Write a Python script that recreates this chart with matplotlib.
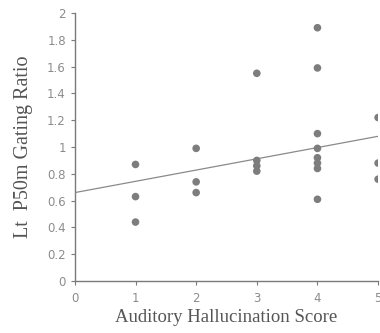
import matplotlib
matplotlib.use("Agg")
import matplotlib.pyplot as plt

# Auditory hallucination score vs left P50m gating ratio
score = [1, 1, 1,
         2, 2, 2,
         3, 3, 3, 3,
         4, 4, 4, 4, 4, 4, 4, 4,
         5, 5, 5]
ratio = [0.87, 0.63, 0.44,
         0.99, 0.74, 0.66,
         1.55, 0.90, 0.86, 0.82,
         1.89, 1.59, 1.10, 0.99, 0.92, 0.88, 0.84, 0.61,
         1.22, 0.88, 0.76]

# Regression line endpoints
fit_x = [0, 5]
fit_y = [0.66, 1.08]

x_ticks = [0, 1, 2, 3, 4, 5]
y_ticks = [0, 0.2, 0.4, 0.6, 0.8, 1, 1.2, 1.4, 1.6, 1.8, 2]
y_tick_labels = ["0", "0.2", "0.4", "0.6", "0.8", "1", "1.2", "1.4", "1.6", "1.8", "2"]

fig = plt.figure(figsize=(3.8, 3.33), dpi=100)
ax = fig.add_axes([0.197, 0.156, 0.798, 0.805])

axis_col = "#7a7a7a"
ax.plot(fit_x, fit_y, color="#8a8a8a", lw=0.9, zorder=2)
ax.scatter(score, ratio, s=30, color="#7d7d7d", edgecolors="none", zorder=3)

ax.set_xlim(0, 5)
ax.set_ylim(0, 2)
ax.set_xticks(x_ticks)
ax.set_xticklabels([str(t) for t in x_ticks])
ax.set_yticks(y_ticks)
ax.set_yticklabels(y_tick_labels)

for side in ("top", "right"):
    ax.spines[side].set_visible(False)
for side in ("left", "bottom"):
    ax.spines[side].set_color(axis_col)
    ax.spines[side].set_linewidth(1.0)

ax.tick_params(axis="both", colors=axis_col, labelcolor="#8c8c8c",
               labelsize=8.5, length=3, width=0.8, direction="out")
ax.tick_params(axis="x", pad=5)

serif = ["Liberation Serif", "DejaVu Serif"]
ax.set_xlabel("Auditory Hallucination Score", family=serif, fontsize=13.5,
              color="#555555", labelpad=3)
ax.set_ylabel("Lt  P50m Gating Ratio", family=serif, fontsize=14.5,
              color="#555555", labelpad=10)

fig.savefig("out.png", dpi=100)
